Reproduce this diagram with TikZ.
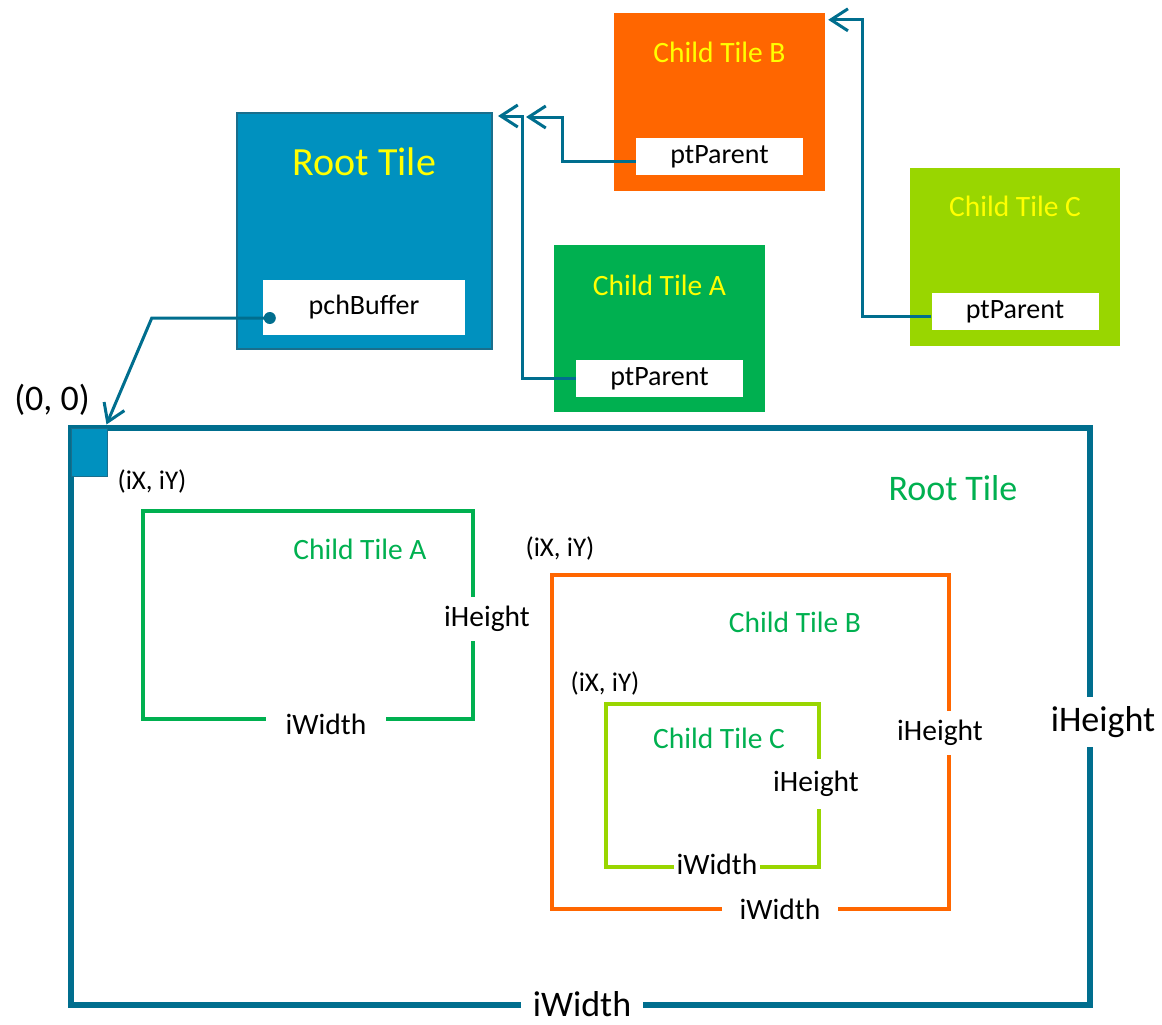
\documentclass[tikz,border=0pt]{standalone}
\usepackage{fontspec}
\setmainfont{Carlito}
\usetikzlibrary{arrows.meta,positioning}
\definecolor{rootc}{HTML}{0091BF}
\definecolor{rootln}{HTML}{1A6E8C}
\definecolor{ptrc}{HTML}{006E8E}
\definecolor{tileb}{HTML}{FF6600}
\definecolor{tilea}{HTML}{00B050}
\definecolor{tilec}{HTML}{99D600}
\definecolor{namey}{HTML}{FFFF00}
\newcommand\ftop{\fontsize{40}{44}\selectfont}
\newcommand\fbig{\fontsize{36}{40}\selectfont}
\newcommand\fmid{\fontsize{29.5}{33}\selectfont}
\newcommand\fsml{\fontsize{28}{32}\selectfont}
\newcommand\fxy{\fontsize{27}{30}\selectfont}
\tikzset{
  tile/.style={fill=#1,inner sep=0pt,minimum width=211pt,minimum height=178pt},
  fld/.style={fill=white,inner sep=0pt,minimum width=167pt,minimum height=37pt,font=\fsml},
  tname/.style={text=namey,font=\fmid,inner sep=0pt},
  ptr/.style={-{Straight Barb[length=17pt,width=22pt]},line width=3pt,ptrc},
  frm/.style={line width=3.5pt,#1},
  gap/.style={fill=white,inner xsep=6pt,inner ysep=9pt,font=\fmid},
  lbl/.style={inner sep=0pt,font=\fxy}
}
\begin{document}
\begin{tikzpicture}[x=1pt,y=-1pt]
\useasboundingbox (0,0) rectangle (1162,1025);
% memory view
\node[tile=rootc,draw=rootln,line width=2pt,minimum width=255pt,minimum height=236pt] (root) at (364.5,231) {};
\node[tname,font=\ftop] (rootname) at ([yshift=-50pt]root.north) {Root Tile};
\node[fld,minimum width=202pt,minimum height=55pt] (buf) at (364,307.5) {pchBuffer};
\node[tile=tileb] (tb) at (719.5,102) {};
\node[tname] (tbname) at ([yshift=-40pt]tb.north) {Child Tile B};
\node[fld] (pb) at (719.5,156.5) {ptParent};
\node[tile=tilea,minimum height=167pt] (ta) at (659.5,328.5) {};
\node[tname] (taname) at ([yshift=-41pt]ta.north) {Child Tile A};
\node[fld] (pa) at (659.5,378.5) {ptParent};
\node[tile=tilec,minimum width=210pt] (tc) at (1015,257) {};
\node[tname] (tcname) at ([yshift=-39pt]tc.north) {Child Tile C};
\node[fld] (pc) at (1015,311.5) {ptParent};
% pointers
\coordinate (bufdot) at ([xshift=7pt,yshift=-10.5pt]buf.west);
\coordinate (atop) at (523,117);
\draw[ptr] (pa.west) -- ++(-53,0) |- ([xshift=5pt,yshift=-4pt]root.north east);
\draw[ptr] ([yshift=-5pt]pb.west) -- ++(-73,0) |- ([xshift=3pt]atop);
\draw[ptr] ([yshift=-5pt]pc.west) -- ++(-69,0) |- ([xshift=3pt,yshift=-7pt]tb.north east);
% buffer view
\draw[frm=ptrc,line width=6pt] (71,428) rectangle (1090,1005);
\node[fill=rootc,draw=rootln,line width=1pt,inner sep=0pt,minimum width=36pt,minimum height=48pt] (org) at (89,452) {};
\fill[ptrc] (bufdot) circle (6pt);
\draw[ptr] (bufdot) -- ++(-118,0) -- ([xshift=-1pt,yshift=3pt]org.north east);
\node[lbl,font=\fbig] (o) at (52,400) {(0, 0)};
\node[lbl] (xyA) at (152,481) {(iX, iY)};
\node[lbl,text=tilea,font=\fbig] (rname) at (953,488) {Root Tile};
\draw[frm=tilea] (143,511) rectangle (473,719);
\draw[frm=tileb] (552,575) rectangle (949,909);
\draw[frm=tilec] (606,704) rectangle (819,867);
\node[lbl] (xyB) at (560,548) {(iX, iY)};
\node[lbl] (xyC) at (605,683) {(iX, iY)};
\node[lbl,text=tilea,font=\fmid] (na) at (360,549) {Child Tile A};
\node[lbl,text=tilea,font=\fmid] (nb) at (795,622) {Child Tile B};
\node[lbl,text=tilea,font=\fmid] (nc) at (719,738) {Child Tile C};
\node[gap] (ha) at (487,619) {iHeight};
\node[gap,inner xsep=20pt] (wa) at (326,724) {iWidth};
\node[gap] (hb) at (940,733) {iHeight};
\node[gap,inner xsep=18pt] (wb) at (780,909) {iWidth};
\node[gap,inner ysep=12pt] (hc) at (816,784) {iHeight};
\node[gap,inner sep=3pt] (wc) at (717,864) {iWidth};
\node[gap,font=\fbig] (hr) at (1103,722) {iHeight};
\node[gap,font=\fbig,inner xsep=12pt,inner ysep=1pt] (wr) at (582,1004) {iWidth};
\end{tikzpicture}
\end{document}
